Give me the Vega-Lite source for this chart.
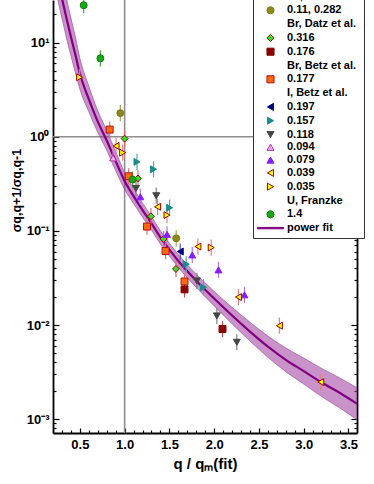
{
  "$schema": "https://vega.github.io/schema/vega-lite/v6.json",
  "width": 304,
  "height": 433,
  "autosize": {"type": "none"},
  "padding": {"left": 53, "top": 0, "right": 17, "bottom": 51},
  "background": "white",
  "config": {
    "view": {"stroke": null},
    "font": "Liberation Sans",
    "axis": {"grid": false, "labelFont": "Liberation Sans", "labelFontWeight": "bold", "labelColor": "black", "titleColor": "black", "titleFont": "Liberation Sans", "domainColor": "black", "tickColor": "black", "domainWidth": 1.8, "tickWidth": 1.2}
  },
  "datasets": {
    "vref": [{"q": 1}],
    "href": [{"v": 1}],
    "fit": [
      {"q": 0.25, "v": 47.9, "lo": 29.5, "hi": 77.6},
      {"q": 0.28, "v": 35.5, "lo": 21.9, "hi": 57.5},
      {"q": 0.30, "v": 29.5, "lo": 18.2, "hi": 47.9},
      {"q": 0.35, "v": 18.2, "lo": 11.2, "hi": 29.5},
      {"q": 0.40, "v": 11.5, "lo": 7.24, "hi": 18.2},
      {"q": 0.45, "v": 7.41, "lo": 4.79, "hi": 11.5},
      {"q": 0.50, "v": 4.68, "lo": 3.20, "hi": 6.84},
      {"q": 0.60, "v": 2.51, "lo": 1.84, "hi": 3.43},
      {"q": 0.70, "v": 1.445, "lo": 1.109, "hi": 1.884},
      {"q": 0.80, "v": 0.912, "lo": 0.716, "hi": 1.161},
      {"q": 0.90, "v": 0.550, "lo": 0.437, "hi": 0.692},
      {"q": 1.00, "v": 0.339, "lo": 0.275, "hi": 0.417},
      {"q": 1.10, "v": 0.234, "lo": 0.195, "hi": 0.282},
      {"q": 1.20, "v": 0.166, "lo": 0.1396, "hi": 0.197},
      {"q": 1.30, "v": 0.120, "lo": 0.1019, "hi": 0.1419},
      {"q": 1.40, "v": 0.0851, "lo": 0.0724, "hi": 0.100},
      {"q": 1.50, "v": 0.0631, "lo": 0.0540, "hi": 0.0738},
      {"q": 1.60, "v": 0.0479, "lo": 0.0409, "hi": 0.0560},
      {"q": 1.80, "v": 0.0295, "lo": 0.0251, "hi": 0.0347},
      {"q": 2.00, "v": 0.0191, "lo": 0.01596, "hi": 0.02275},
      {"q": 2.20, "v": 0.0126, "lo": 0.0103, "hi": 0.0154},
      {"q": 2.40, "v": 0.00851, "lo": 0.00676, "hi": 0.01072},
      {"q": 2.60, "v": 0.00589, "lo": 0.00454, "hi": 0.00764},
      {"q": 2.80, "v": 0.00427, "lo": 0.00319, "hi": 0.00570},
      {"q": 3.00, "v": 0.00324, "lo": 0.00236, "hi": 0.00445},
      {"q": 3.20, "v": 0.00245, "lo": 0.00174, "hi": 0.00346},
      {"q": 3.40, "v": 0.00191, "lo": 0.00132, "hi": 0.00275},
      {"q": 3.60, "v": 0.00145, "lo": 0.000977, "hi": 0.00214}
    ],
    "pts": [
      {"series": "0.11, 0.282", "q": 0.952, "v": 1.78, "elo": 1.460, "ehi": 2.172},
      {"series": "0.11, 0.282", "q": 1.576, "v": 0.0833, "elo": 0.0683, "ehi": 0.1016},
      {"series": "0.316", "q": 1.000, "v": 0.953, "elo": 0.781, "ehi": 1.163},
      {"series": "0.316", "q": 1.149, "v": 0.360, "elo": 0.2952, "ehi": 0.4392},
      {"series": "0.316", "q": 1.294, "v": 0.143, "elo": 0.1173, "ehi": 0.1745},
      {"series": "0.316", "q": 1.435, "v": 0.0819, "elo": 0.0672, "ehi": 0.0999},
      {"series": "0.316", "q": 1.573, "v": 0.0394, "elo": 0.0323, "ehi": 0.0481},
      {"series": "0.176", "q": 1.669, "v": 0.0239, "elo": 0.0196, "ehi": 0.0292},
      {"series": "0.176", "q": 2.093, "v": 0.00907, "elo": 0.00744, "ehi": 0.01107},
      {"series": "0.177", "q": 0.833, "v": 1.19, "elo": 0.976, "ehi": 1.452},
      {"series": "0.177", "q": 1.045, "v": 0.380, "elo": 0.3116, "ehi": 0.4636},
      {"series": "0.177", "q": 1.250, "v": 0.111, "elo": 0.0910, "ehi": 0.1354},
      {"series": "0.177", "q": 1.457, "v": 0.0611, "elo": 0.0501, "ehi": 0.0745},
      {"series": "0.177", "q": 1.669, "v": 0.0290, "elo": 0.0238, "ehi": 0.0354},
      {"series": "0.197", "q": 1.621, "v": 0.0603, "elo": 0.0494, "ehi": 0.0736},
      {"series": "0.157", "q": 1.138, "v": 0.540, "elo": 0.4428, "ehi": 0.6588},
      {"series": "0.157", "q": 1.323, "v": 0.451, "elo": 0.3698, "ehi": 0.5502},
      {"series": "0.157", "q": 1.502, "v": 0.176, "elo": 0.1443, "ehi": 0.2147},
      {"series": "0.157", "q": 1.688, "v": 0.0442, "elo": 0.0362, "ehi": 0.0539},
      {"series": "0.157", "q": 1.881, "v": 0.0251, "elo": 0.0206, "ehi": 0.0306},
      {"series": "0.118", "q": 1.127, "v": 0.282, "elo": 0.2312, "ehi": 0.3440},
      {"series": "0.118", "q": 1.353, "v": 0.236, "elo": 0.1935, "ehi": 0.2879},
      {"series": "0.118", "q": 1.807, "v": 0.0294, "elo": 0.0241, "ehi": 0.0359},
      {"series": "0.118", "q": 2.030, "v": 0.0125, "elo": 0.01025, "ehi": 0.01525},
      {"series": "0.118", "q": 2.253, "v": 0.00656, "elo": 0.00538, "ehi": 0.00800},
      {"series": "0.094", "q": 0.871, "v": 0.595, "elo": 0.4879, "ehi": 0.7259},
      {"series": "0.079", "q": 1.175, "v": 0.230, "elo": 0.1886, "ehi": 0.2806},
      {"series": "0.079", "q": 1.473, "v": 0.0918, "elo": 0.0753, "ehi": 0.1120},
      {"series": "0.079", "q": 1.755, "v": 0.0555, "elo": 0.0455, "ehi": 0.0677},
      {"series": "0.079", "q": 2.048, "v": 0.0385, "elo": 0.0316, "ehi": 0.0470},
      {"series": "0.079", "q": 2.338, "v": 0.0209, "elo": 0.0171, "ehi": 0.0255},
      {"series": "0.039", "q": 0.904, "v": 0.797, "elo": 0.6535, "ehi": 0.9723},
      {"series": "0.039", "q": 1.368, "v": 0.180, "elo": 0.1476, "ehi": 0.2196},
      {"series": "0.039", "q": 1.818, "v": 0.0681, "elo": 0.0558, "ehi": 0.0831},
      {"series": "0.039", "q": 2.271, "v": 0.0198, "elo": 0.01624, "ehi": 0.02416},
      {"series": "0.039", "q": 2.728, "v": 0.00984, "elo": 0.00807, "ehi": 0.01200},
      {"series": "0.039", "q": 3.190, "v": 0.00248, "elo": 0.00203, "ehi": 0.00303},
      {"series": "0.035", "q": 0.498, "v": 4.28, "elo": 3.510, "ehi": 5.222},
      {"series": "0.035", "q": 0.978, "v": 0.677, "elo": 0.5551, "ehi": 0.8259},
      {"series": "0.035", "q": 1.473, "v": 0.147, "elo": 0.1205, "ehi": 0.1793},
      {"series": "0.035", "q": 1.967, "v": 0.0664, "elo": 0.0544, "ehi": 0.0810},
      {"series": "1.4", "q": 0.543, "v": 24.9, "elo": 20.42, "ehi": 30.38},
      {"series": "1.4", "q": 0.729, "v": 6.8, "elo": 5.576, "ehi": 8.296},
      {"series": "1.4", "q": 1.089, "v": 0.351, "elo": 0.2878, "ehi": 0.4282}
    ]
  },
  "resolve": {"axis": {"x": "independent", "y": "independent"}},
  "layer": [
    {
      "data": {"name": "vref"},
      "mark": {"type": "rule", "color": "#8e8e8e", "strokeWidth": 1.6},
      "encoding": {
        "x": {"field": "q", "type": "quantitative",
          "scale": {"type": "linear", "domain": [0.2, 3.595], "nice": false, "zero": false},
          "axis": {"orient": "bottom", "values": [0.5, 1, 1.5, 2, 2.5, 3, 3.5], "format": ".1f", "tickSize": -5, "labelPadding": 10, "labelFontSize": 13, "labelFlush": false, "title": "q / qₘ(fit)", "titleFontSize": 15, "titleFontWeight": "bold", "titlePadding": 5}}
      }
    },
    {
      "data": {"name": "href"},
      "mark": {"type": "rule", "color": "#8e8e8e", "strokeWidth": 1.6},
      "encoding": {
        "y": {"field": "v", "type": "quantitative",
          "scale": {"type": "log", "domain": [0.000713, 28.3], "nice": false},
          "axis": {"orient": "left", "values": [0.001, 0.01, 0.1, 1, 10], "tickSize": -6, "labelPadding": 10, "labelFontSize": 13, "labelBaseline": "middle",
            "labelExpr": "datum.value >= 5 ? '10¹' : datum.value >= 0.5 ? '10⁰' : datum.value >= 0.05 ? '10⁻¹' : datum.value >= 0.005 ? '10⁻²' : '10⁻³'",
            "title": "σq,q+1/σq,q-1", "titleFontSize": 12.5, "titleFontWeight": "bold", "titleX": -37, "titleY": 190, "titleBaseline": "middle", "titleAngle": 270}}
      }
    },
    {
      "data": {"name": "fit"},
      "mark": {"type": "area", "clip": true, "interpolate": "monotone", "fill": "#a040a0", "fillOpacity": 0.57, "stroke": "#9a4a9a", "strokeWidth": 0.8, "strokeOpacity": 0.8},
      "encoding": {
        "x": {"field": "q", "type": "quantitative",
          "scale": {"type": "linear", "domain": [0.2, 3.595], "nice": false, "zero": false},
          "axis": {"orient": "bottom", "values": [0.2, 0.3, 0.4, 0.6, 0.7, 0.8, 0.9, 1.1, 1.2, 1.3, 1.4, 1.6, 1.7, 1.8, 1.9, 2.1, 2.2, 2.3, 2.4, 2.6, 2.7, 2.8, 2.9, 3.1, 3.2, 3.3, 3.4], "tickSize": -3, "labels": false, "title": null, "domain": false}},
        "y": {"field": "lo", "type": "quantitative",
          "scale": {"type": "log", "domain": [0.000713, 28.3], "nice": false},
          "axis": {"orient": "left", "values": [0.0008, 0.0009, 0.002, 0.003, 0.004, 0.005, 0.006, 0.007, 0.008, 0.009, 0.02, 0.03, 0.04, 0.05, 0.06, 0.07, 0.08, 0.09, 0.2, 0.3, 0.4, 0.5, 0.6, 0.7, 0.8, 0.9, 2, 3, 4, 5, 6, 7, 8, 9, 20], "tickSize": -3, "labels": false, "title": null, "domain": false}},
        "y2": {"field": "hi"}
      }
    },
    {
      "data": {"name": "fit"},
      "mark": {"type": "line", "clip": true, "interpolate": "monotone", "color": "#800080", "strokeWidth": 2.2},
      "encoding": {
        "x": {"field": "q", "type": "quantitative",
          "scale": {"type": "linear", "domain": [0.2, 3.595], "nice": false, "zero": false}, "axis": null},
        "y": {"field": "v", "type": "quantitative",
          "scale": {"type": "log", "domain": [0.000713, 28.3], "nice": false},
          "axis": {"orient": "right", "values": [0.001, 0.01, 0.1, 1, 10], "tickSize": -6, "labels": false, "title": null}}
      }
    },
    {
      "data": {"name": "pts"},
      "mark": {"type": "rule", "clip": true, "strokeWidth": 1.2},
      "encoding": {
        "x": {"field": "q", "type": "quantitative",
          "scale": {"type": "linear", "domain": [0.2, 3.595], "nice": false, "zero": false}, "axis": null},
        "y": {"field": "elo", "type": "quantitative",
          "scale": {"type": "log", "domain": [0.000713, 28.3], "nice": false}, "axis": null},
        "y2": {"field": "ehi"},
        "color": {"field": "series", "type": "nominal", "legend": null,
          "scale": {"domain": ["0.11, 0.282", "0.316", "0.176", "0.177", "0.197", "0.157", "0.118", "0.094", "0.079", "0.039", "0.035", "1.4"],
            "range": ["#a8a850", "#e07070", "#c05050", "#e07070", "#5050a8", "#50a8a8", "#808080", "#d080d0", "#b070ff", "#e88080", "#e88080", "#40b040"]}}
      }
    },
    {
      "data": {"name": "pts"},
      "mark": {"type": "point", "filled": true, "opacity": 1, "size": 48, "strokeWidth": 1, "clip": true},
      "encoding": {
        "x": {"field": "q", "type": "quantitative",
          "scale": {"type": "linear", "domain": [0.2, 3.595], "nice": false, "zero": false}, "axis": null},
        "y": {"field": "v", "type": "quantitative",
          "scale": {"type": "log", "domain": [0.000713, 28.3], "nice": false},
          "axis": {"orient": "right", "values": [0.0008, 0.0009, 0.002, 0.003, 0.004, 0.005, 0.006, 0.007, 0.008, 0.009, 0.02, 0.03, 0.04, 0.05, 0.06, 0.07, 0.08, 0.09, 0.2, 0.3, 0.4, 0.5, 0.6, 0.7, 0.8, 0.9, 2, 3, 4, 5, 6, 7, 8, 9, 20], "tickSize": -3, "labels": false, "title": null, "domain": false}},
        "shape": {"field": "series", "type": "nominal",
          "scale": {"domain": ["Fe, Bork et al.", "0.11, 0.282", "Br, Datz et al.", "0.316", "0.176", "Br, Betz et al.", "0.177", "I, Betz et al.", "0.197", "0.157", "0.118", "0.094", "0.079", "0.039", "0.035", "U, Franzke", "1.4", "power fit"],
            "range": ["circle", "circle", "circle", "diamond", "square", "circle", "square", "circle", "triangle-left", "triangle-right", "triangle-down", "triangle-up", "triangle-up", "triangle-left", "triangle-right", "circle", "circle", "M-3.7,-0.2L3.7,-0.2L3.7,0.2L-3.7,0.2Z"]},
          "legend": {
            "orient": "none", "legendX": 200, "legendY": -13, "title": null,
            "padding": 4, "strokeColor": "#333333", "fillColor": "white",
            "labelFont": "Liberation Sans", "labelFontWeight": "bold", "labelFontSize": 11, "labelColor": "black",
            "symbolSize": 50, "symbolStrokeWidth": 1, "symbolOffset": 8, "labelOffset": 11, "rowPadding": 0.8,
            "encode": {
              "labels": {"update": {
                "dx": {"signal": "indexof(['Fe, Bork et al.', 'Br, Datz et al.', 'Br, Betz et al.', 'I, Betz et al.', 'U, Franzke'], datum.value) >= 0 ? -31 : 0"}
              }}
            }
          }},
        "fill": {"field": "series", "type": "nominal",
          "scale": {"domain": ["Fe, Bork et al.", "0.11, 0.282", "Br, Datz et al.", "0.316", "0.176", "Br, Betz et al.", "0.177", "I, Betz et al.", "0.197", "0.157", "0.118", "0.094", "0.079", "0.039", "0.035", "U, Franzke", "1.4", "power fit"],
            "range": ["transparent", "#8c8a1a", "transparent", "#2ee02e", "#8b0000", "transparent", "#ff6a10", "transparent", "#000080", "#1a8c8c", "#454545", "#f0b0f0", "#8a1aff", "#ffff00", "#ffff00", "transparent", "#1aa81a", "#800080"]}},
        "stroke": {"field": "series", "type": "nominal",
          "scale": {"domain": ["Fe, Bork et al.", "0.11, 0.282", "Br, Datz et al.", "0.316", "0.176", "Br, Betz et al.", "0.177", "I, Betz et al.", "0.197", "0.157", "0.118", "0.094", "0.079", "0.039", "0.035", "U, Franzke", "1.4", "power fit"],
            "range": ["transparent", "#7a7a10", "transparent", "#b00000", "#8b0000", "transparent", "#b01010", "transparent", "#000080", "#1a8c8c", "#454545", "#b030b0", "#8a1aff", "#a00000", "#a00000", "transparent", "#0a800a", "#800080"]}}
      }
    }
  ]
}
